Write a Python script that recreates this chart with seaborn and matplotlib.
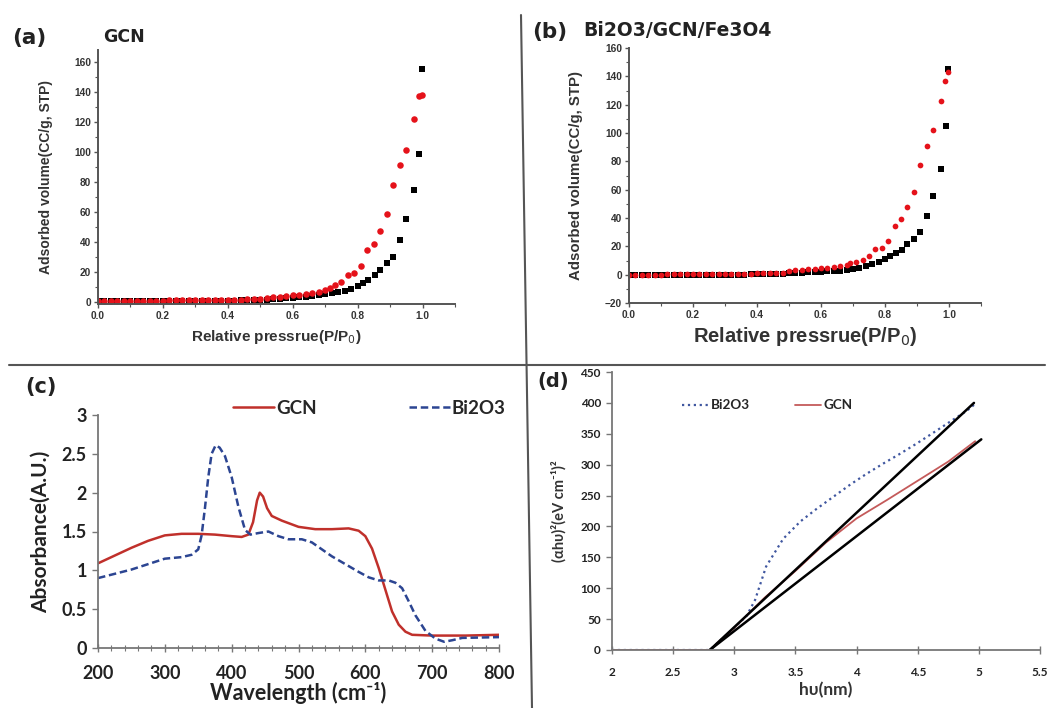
import matplotlib
matplotlib.use("Agg")
import matplotlib.pyplot as plt
from matplotlib.lines import Line2D
from matplotlib.ticker import MultipleLocator, FixedLocator
import seaborn as sns

sns.set_theme(style="ticks")
plt.rcParams['font.family'] = ['Liberation Sans', 'DejaVu Sans']

# ---------------- data: (a) GCN isotherm ----------------
a_black_x = [0.00, 0.02, 0.04, 0.06, 0.08, 0.10, 0.12, 0.14, 0.16, 0.18, 0.20, 0.22, 0.24,
             0.26, 0.28, 0.30, 0.32, 0.34, 0.36, 0.38, 0.40, 0.42, 0.44, 0.46, 0.48,
             0.50, 0.52, 0.54, 0.56, 0.58, 0.60, 0.62, 0.64, 0.66, 0.68, 0.70, 0.72, 0.74,
             0.76, 0.78, 0.80, 0.815, 0.833, 0.852, 0.87, 0.89, 0.91, 0.93, 0.95, 0.975,
             0.99, 0.998]
a_black_y = [0.2, 0.2, 0.3, 0.3, 0.3, 0.3, 0.4, 0.4, 0.4, 0.4, 0.5, 0.5, 0.5, 0.5, 0.6, 0.6,
             0.6, 0.7, 0.7, 0.7, 0.8, 0.8, 0.9, 0.9, 1.0,
             1.2, 1.5, 1.8, 2.0, 2.3, 2.6, 3.0, 3.4, 3.9, 4.4, 5.0, 5.6, 6.2, 7.3, 8.4, 10.2,
             12.4, 14.7, 17.8, 21.3, 25.6, 29.6, 41.0, 55.0, 74.5, 98.5, 155.0]
a_red_x = [0.00, 0.02, 0.04, 0.06, 0.08, 0.10, 0.12, 0.14, 0.16, 0.18, 0.20, 0.22, 0.24,
           0.26, 0.28, 0.30, 0.32, 0.34, 0.36, 0.38, 0.40, 0.42, 0.44, 0.46, 0.48,
           0.50, 0.52, 0.54, 0.56, 0.58, 0.60, 0.62, 0.64, 0.66, 0.68, 0.70,
           0.715, 0.73, 0.75, 0.77, 0.79, 0.81, 0.83, 0.85, 0.87, 0.89, 0.91, 0.93, 0.95,
           0.975, 0.988, 0.998]
a_red_y = [0.5, 0.5, 0.6, 0.6, 0.6, 0.7, 0.7, 0.7, 0.8, 0.8, 0.8, 0.9, 0.9, 0.9, 1.0, 1.0,
           1.1, 1.1, 1.2, 1.2, 1.3, 1.4, 1.5, 1.6, 1.8,
           2.0, 2.6, 3.0, 3.4, 3.8, 4.3, 4.7, 5.1, 5.6, 6.3, 7.6,
           9.1, 11.3, 13.1, 17.6, 19.1, 23.6, 34.4, 38.4, 47.3, 58.4, 77.6, 91.0, 101.0,
           122.0, 137.0, 138.0]

# ---------------- data: (b) Bi2O3/GCN/Fe3O4 isotherm ----------------
b_black_x = a_black_x
b_black_y = [-0.5, -0.5, -0.4, -0.4, -0.4, -0.3, -0.3, -0.3, -0.2, -0.2, -0.2, -0.1, -0.1,
             0.0, 0.0, 0.0, 0.1, 0.1, 0.1, 0.2, 0.2, 0.3, 0.3, 0.4, 0.5,
             1.0, 1.2, 1.4, 1.6, 1.8, 2.0, 2.3, 2.6, 2.9, 3.3, 3.8, 4.7, 5.9, 7.3, 9.2, 11.1,
             12.9, 15.3, 17.7, 21.7, 25.2, 29.9, 41.7, 55.8, 74.9, 104.8, 145.0]
b_red_x = [0.00, 0.02, 0.04, 0.06, 0.08, 0.10, 0.12, 0.14, 0.16, 0.18, 0.20, 0.22, 0.24,
           0.26, 0.28, 0.30, 0.32, 0.34, 0.36, 0.38, 0.40, 0.42, 0.44, 0.46, 0.48,
           0.50, 0.52, 0.54, 0.56, 0.58, 0.60, 0.62, 0.64, 0.66, 0.68,
           0.69, 0.71, 0.73, 0.75, 0.77, 0.79, 0.81, 0.83, 0.85, 0.87, 0.89, 0.91, 0.93,
           0.95, 0.975, 0.988, 0.998]
b_red_y = [0.0, 0.0, 0.0, 0.1, 0.1, 0.1, 0.2, 0.2, 0.2, 0.3, 0.3, 0.3, 0.4, 0.4, 0.5, 0.5,
           0.6, 0.6, 0.7, 0.8, 0.9, 1.0, 1.1, 1.3, 1.5,
           2.5, 3.0, 3.4, 3.8, 4.2, 4.6, 5.0, 5.5, 6.0, 6.8,
           8.0, 9.2, 10.4, 12.9, 17.9, 18.8, 23.8, 34.6, 39.1, 48.0, 58.7, 77.7, 90.5,
           101.8, 122.5, 136.6, 143.0]

# ---------------- data: (c) UV-vis absorbance ----------------
c_gcn_x = [200, 225, 250, 275, 300, 325, 350, 375, 400, 415, 425, 432, 438, 442, 447,
           453, 460, 475, 500, 525, 550, 575, 590, 600, 610, 620, 630, 640, 650, 660,
           670, 700, 750, 800]
c_gcn_y = [1.09, 1.19, 1.29, 1.38, 1.45, 1.47, 1.47, 1.46, 1.44, 1.43, 1.46, 1.62, 1.90,
           2.00, 1.95, 1.80, 1.70, 1.64, 1.56, 1.53, 1.53, 1.54, 1.51, 1.44, 1.28, 1.03,
           0.75, 0.47, 0.30, 0.21, 0.17, 0.16, 0.16, 0.17]
c_bi_x = [200, 250, 300, 325, 340, 350, 355, 360, 365, 370, 376, 382, 390, 400, 410, 420,
          428, 440, 455, 470, 485, 505, 520, 535, 550, 570, 590, 605, 620, 635, 645, 655,
          665, 675, 690, 705, 718, 730, 745, 800]
c_bi_y = [0.90, 1.01, 1.15, 1.17, 1.20, 1.27, 1.45, 1.80, 2.20, 2.50, 2.61, 2.58, 2.47,
          2.20, 1.82, 1.52, 1.46, 1.48, 1.50, 1.44, 1.40, 1.40, 1.36, 1.27, 1.18, 1.08,
          0.98, 0.91, 0.87, 0.87, 0.84, 0.77, 0.60, 0.42, 0.22, 0.12, 0.08, 0.10, 0.13,
          0.14]
c_xticks = [200, 300, 400, 500, 600, 700, 800]
c_yticks = [0, 0.5, 1, 1.5, 2, 2.5, 3]
c_yticklabels = ["0", "0.5", "1", "1.5", "2", "2.5", "3"]

# ---------------- data: (d) Tauc plot ----------------
d_bi_x = [2.0, 2.5, 2.8, 3.0, 3.1, 3.17, 3.26, 3.40, 3.54, 3.67, 3.81, 3.95, 4.08, 4.22,
          4.35, 4.49, 4.63, 4.76, 4.90, 4.98]
d_bi_y = [0, 0, 0, 36, 55, 81, 135, 180, 208, 228, 248, 268, 285, 302, 317, 334, 352,
          369, 387, 400]
d_gcn_x = [2.0, 2.5, 2.8, 3.0, 3.25, 3.5, 3.75, 4.0, 4.25, 4.5, 4.75, 4.97]
d_gcn_y = [0, 0, 0, 36, 85, 128, 174, 213, 243, 274, 305, 338]
d_fit1_x = [2.8, 4.96]
d_fit1_y = [0, 400]
d_fit2_x = [2.8, 5.02]
d_fit2_y = [0, 341]
d_xticks = [2, 2.5, 3, 3.5, 4, 4.5, 5, 5.5]
d_xticklabels = ["2", "2.5", "3", "3.5", "4", "4.5", "5", "5.5"]

W, H = 1050, 708
fig = plt.figure(figsize=(W / 100, H / 100), dpi=100)
fig.patch.set_facecolor("white")


def rect(l, r, t, b):
    return [l / W, 1 - b / H, (r - l) / W, (b - t) / H]


RED_PT = "#e5121a"
AX_GRAY = "#555555"
TFONT = ["DejaVu Sans"]
LFONT = ["Lato", "DejaVu Sans"]

# ---------------- (a) ----------------
axa = fig.add_axes(rect(98, 455, 50, 304))
sns.scatterplot(x=a_black_x, y=a_black_y, ax=axa, marker="s", color="black", s=18,
                linewidth=0)
sns.scatterplot(x=a_red_x, y=a_red_y, ax=axa, marker="o", color=RED_PT, s=22,
                linewidth=0)
axa.set_xlim(0, 1.1)
axa.set_ylim(-1.5, 168)
axa.xaxis.set_major_locator(FixedLocator([0, 0.2, 0.4, 0.6, 0.8, 1.0]))
axa.xaxis.set_minor_locator(MultipleLocator(0.1))
axa.yaxis.set_major_locator(FixedLocator([0, 20, 40, 60, 80, 100, 120, 140, 160]))
axa.yaxis.set_minor_locator(MultipleLocator(10))

# ---------------- (b) ----------------
axb = fig.add_axes(rect(629, 981, 48, 303))
sns.scatterplot(x=b_black_x, y=b_black_y, ax=axb, marker="s", color="black", s=13,
                linewidth=0)
sns.scatterplot(x=b_red_x, y=b_red_y, ax=axb, marker="o", color=RED_PT, s=17,
                linewidth=0)
axb.set_xlim(0, 1.1)
axb.set_ylim(-20, 160)
axb.xaxis.set_major_locator(FixedLocator([0, 0.2, 0.4, 0.6, 0.8, 1.0]))
axb.xaxis.set_minor_locator(MultipleLocator(0.1))
axb.yaxis.set_major_locator(MultipleLocator(20))
axb.yaxis.set_minor_locator(MultipleLocator(10))

for ax in (axa, axb):
    for s in ("top", "right"):
        ax.spines[s].set_visible(False)
    for s in ("left", "bottom"):
        ax.spines[s].set_color(AX_GRAY)
        ax.spines[s].set_linewidth(1.4)
    ax.tick_params(which="major", direction="out", length=3, width=1, color=AX_GRAY,
                   labelsize=7.3, pad=2)
    ax.tick_params(which="minor", direction="out", length=2, width=0.8, color=AX_GRAY)
    ax.xaxis.set_major_formatter(matplotlib.ticker.FormatStrFormatter("%.1f"))
    for lab in ax.get_xticklabels() + ax.get_yticklabels():
        lab.set_fontweight("bold")
        lab.set_color("#333333")
    ax.set_facecolor("white")

axa.set_ylabel("Adsorbed volume(CC/g, STP)", fontsize=10, fontweight="bold",
               color="#333333", labelpad=15)
axa.set_xlabel("Relative pressrue(P/P$_0$)", fontsize=11, fontweight="bold",
               color="#333333", labelpad=5)
axb.set_ylabel("Adsorbed volume(CC/g, STP)", fontsize=10.8, fontweight="bold",
               color="#333333", labelpad=16)
axb.set_xlabel("Relative pressrue(P/P$_0$)", fontsize=14.5, fontweight="bold",
               color="#333333", labelpad=4)

fig.text(12 / W, 1 - 38 / H, "(a)", fontsize=15.5, fontweight="bold", family=TFONT,
         va="center", ha="left", color="#222222")
fig.text(103 / W, 1 - 37 / H, "GCN", fontsize=12.5, fontweight="bold", family=TFONT,
         va="center", ha="left", color="#222222")
fig.text(532 / W, 1 - 32 / H, "(b)", fontsize=15.5, fontweight="bold", family=TFONT,
         va="center", ha="left", color="#222222")
fig.text(583 / W, 1 - 31 / H, "Bi2O3/GCN/Fe3O4", fontsize=13.5, fontweight="bold",
         family=TFONT, va="center", ha="left", color="#222222")

# ---------------- (c) ----------------
axc = fig.add_axes(rect(98, 499, 415, 648))
sns.lineplot(x=c_gcn_x, y=c_gcn_y, ax=axc, color="#c0302b", linewidth=1.8,
             sort=False, estimator=None, label="GCN")
sns.lineplot(x=c_bi_x, y=c_bi_y, ax=axc, color="#2c4592", linewidth=1.8,
             sort=False, estimator=None, label="Bi2O3")
axc.lines[1].set_dashes([3, 1.5])
axc.set_xlim(200, 800)
axc.set_ylim(0, 3)
axc.xaxis.set_major_locator(FixedLocator(c_xticks))
axc.xaxis.set_minor_locator(MultipleLocator(20))
axc.set_yticks(c_yticks)
axc.set_yticklabels(c_yticklabels)
axc.set_xlabel("Wavelength (cm⁻¹)", fontsize=15.5, fontweight="bold", family=LFONT,
               color="#222222", labelpad=0.5)
axc.set_ylabel("Absorbance(A.U.)", fontsize=15, fontweight="bold", family=LFONT,
               color="#222222", labelpad=8)
axc.legend(loc="center left", bbox_to_anchor=(0.337, 1.03), ncol=2, frameon=False,
           borderpad=0, borderaxespad=0, handlelength=2.2, columnspacing=4.9,
           handletextpad=0.1,
           prop={"family": LFONT, "weight": "bold", "size": 13.5})
fig.text(25 / W, 1 - 387 / H, "(c)", fontsize=15, fontweight="bold", family=TFONT,
         va="center", ha="left", color="#222222")

# ---------------- (d) ----------------
axd = fig.add_axes(rect(612, 1040, 372, 650))
sns.lineplot(x=d_bi_x, y=d_bi_y, ax=axd, color="#4057a0", linewidth=1.6,
             sort=False, estimator=None, label="Bi2O3")
sns.lineplot(x=d_gcn_x, y=d_gcn_y, ax=axd, color="#c45a5a", linewidth=1.3,
             sort=False, estimator=None, label="GCN")
sns.lineplot(x=d_fit1_x, y=d_fit1_y, ax=axd, color="black", linewidth=1.8,
             sort=False, estimator=None)
sns.lineplot(x=d_fit2_x, y=d_fit2_y, ax=axd, color="black", linewidth=1.8,
             sort=False, estimator=None)
axd.lines[0].set_linestyle(":")
axd.set_xlim(2, 5.5)
axd.set_ylim(0, 450)
axd.xaxis.set_major_locator(FixedLocator(d_xticks))
axd.set_xticklabels(d_xticklabels)
axd.yaxis.set_major_locator(MultipleLocator(50))
axd.set_xlabel("hυ(nm)", fontsize=12.5, fontweight="bold", family=LFONT,
               color="#333333", labelpad=3)
axd.set_ylabel("(αhυ)²(eV cm⁻¹)²", fontsize=10.5, fontweight="bold", family=LFONT,
               color="#333333", labelpad=10)
axd.legend(loc="center left", bbox_to_anchor=(0.164, 0.88), ncol=2, frameon=False,
           borderpad=0, borderaxespad=0, handlelength=1.9, columnspacing=3.4,
           handletextpad=0.2,
           prop={"family": LFONT, "weight": "bold", "size": 9.7})
fig.text(537 / W, 1 - 382 / H, "(d)", fontsize=14, fontweight="bold", family=TFONT,
         va="center", ha="left", color="#222222")

for ax, lsz, xpad in ((axc, 13, 9), (axd, 8.5, 9)):
    for s in ("top", "right"):
        ax.spines[s].set_visible(False)
    for s in ("left", "bottom"):
        ax.spines[s].set_color("#777777")
        ax.spines[s].set_linewidth(1.3)
    ax.tick_params(axis="x", which="major", direction="inout", length=6, width=1,
                   color="#777777", labelsize=lsz, pad=xpad)
    ax.tick_params(axis="x", which="minor", direction="inout", length=4, width=0.8,
                   color="#777777")
    ax.tick_params(axis="y", which="major", direction="out", length=4, width=1,
                   color="#777777", labelsize=lsz, pad=4)
    for lab in ax.get_xticklabels() + ax.get_yticklabels():
        lab.set_fontweight("bold")
        lab.set_family(LFONT)
        lab.set_color("#222222")
    ax.set_facecolor("white")

# ---------------- panel separators ----------------
fig.add_artist(Line2D([9 / W, 1045 / W], [1 - 365 / H, 1 - 365 / H],
                      color="#555555", linewidth=1.5))
fig.add_artist(Line2D([521 / W, 532 / W], [1 - 15 / H, 0], color="#555555",
                      linewidth=1.5))

fig.savefig("out.png", dpi=100, facecolor="white")
